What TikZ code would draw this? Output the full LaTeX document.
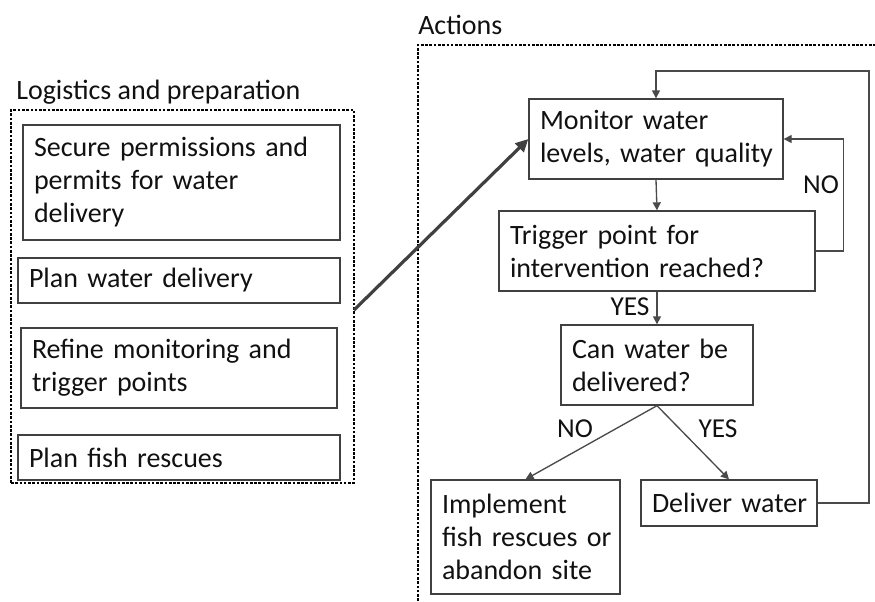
\documentclass[tikz,border=0pt]{standalone}
\usepackage{fontspec}
\setmainfont{Carlito}
\usetikzlibrary{arrows.meta}
\definecolor{linegray}{HTML}{404040}
\definecolor{arrgray}{HTML}{4A4A4A}
\definecolor{txt}{HTML}{111111}
\newcommand{\tline}[1]{\mbox{#1}}
\begin{document}
\begin{tikzpicture}[x=0.75pt,y=-0.75pt,
  every node/.style={font=\fontsize{21}{24.75}\selectfont, text=txt},
  stepbox/.style={draw=linegray, line width=1pt, align=left, inner xsep=8.25pt, inner ysep=0pt},
  bx/.style n args={3}{stepbox, text width=#1, minimum width=#2, minimum height=#3},
  grp/.style={draw=black, line width=0.8pt, dash pattern=on 2pt off 1.2pt},
  arr/.style={draw=arrgray, line width=1pt, -{Triangle[length=6pt,width=6pt]}},
  thick arr/.style={draw=linegray, line width=2.4pt, -{Triangle[length=9.5pt,width=9pt]}},
  lbl/.style={font=\fontsize{20.5}{24}\selectfont, inner sep=0pt},
  title/.style={anchor=base west, inner sep=0pt}
]
\useasboundingbox (0,0) rectangle (875,601);

% group titles
\node[title] (ltitle) at (16,99) {Logistics and preparation};
\node[title] (rtitle) at (418,34) {Actions};

% group frames
\node[grp, minimum width=257.25pt, minimum height=279.75pt, inner sep=0pt] (lgroup) at (182.5,296.5) {};
\coordinate (rbot) at (418,601);
\coordinate (rcorner) at (418,45);
\coordinate (rright) at (875,45);
\draw[grp] (rbot) -- (rcorner) -- (rright);

% left boxes
\node[bx={221.25pt}{237.75pt}{86.25pt}] (secure) at (181.5,182.5) {\tline{Secure permissions and}\\\tline{permits for water}\\\tline{delivery}};
\node[bx={225pt}{241.5pt}{33.75pt}] (planw) at (179,280.5) {\tline{Plan water delivery}};
\node[bx={220.5pt}{237pt}{60pt}] (refine) at (179,368) {\tline{Refine monitoring and}\\\tline{trigger points}};
\node[bx={225pt}{241.5pt}{33.75pt}] (planf) at (179,457.5) {\tline{Plan fish rescues}};

% right boxes
\node[bx={174pt}{190.5pt}{60pt}] (monitor) at (656,139) {\tline{Monitor water}\\\tline{levels, water quality}};
\node[bx={220.5pt}{237pt}{60pt}] (trigger) at (657,251) {\tline{Trigger point for}\\\tline{intervention reached?}};
\node[bx={127.5pt}{144pt}{60pt}] (can) at (657,365) {\tline{Can water be}\\\tline{delivered?}};
\node[bx={125.25pt}{141.75pt}{85.5pt}] (implement) at (525.5,537) {\tline{Implement}\\\tline{fish rescues or}\\\tline{abandon site}};
\node[bx={115.5pt}{132pt}{34.5pt}] (deliver) at (729,503) {\tline{Deliver water}};

% thick arrow from the preparation group to monitoring
\coordinate (astart) at (354,310);
\draw[thick arr] (astart) -- (monitor.west);

% flow
\draw[arr] (monitor.south) -- (trigger.north);
\draw[arr] (trigger.east) -- ++(28,0) |- (monitor.east);
\node[lbl] (lno1) at (821,185) {NO};
\draw[arr] (trigger.south) -- (can.north);
\node[lbl] (lyes1) at (630,307) {YES};
\draw[arr] (can.south) -- (implement.north);
\draw[arr] (can.south) -- (deliver.north);
\node[lbl] (lno2) at (575,429) {NO};
\node[lbl] (lyes2) at (718,429) {YES};

% return loop
\coordinate (loopright) at (869,503);
\coordinate (looptop) at (656,71);
\draw[arr] (deliver.east) -- (loopright) |- (looptop) -- (monitor.north);
\end{tikzpicture}
\end{document}
